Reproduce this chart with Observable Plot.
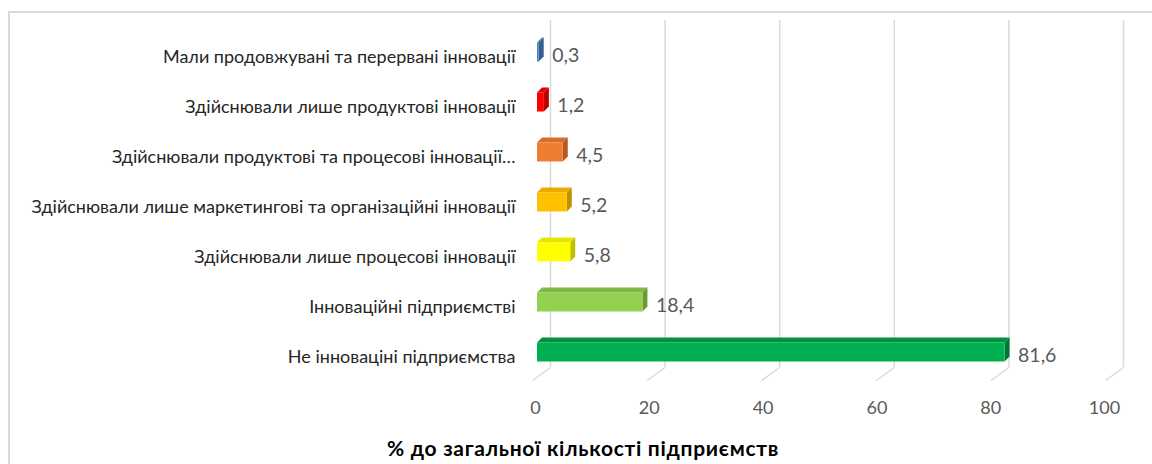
<!DOCTYPE html>
<html><head><meta charset="utf-8">
<script src="https://cdn.jsdelivr.net/npm/d3@7"></script>
<script src="https://cdn.jsdelivr.net/npm/@observablehq/plot@0.6"></script>
<style>
body{margin:0;background:#fff;}
#wrap{position:relative;width:1152px;height:464px;overflow:hidden;font-family:Lato,"Open Sans",sans-serif;}
#border{position:absolute;left:8px;top:11px;width:1300px;height:700px;border:2px solid #d9d9d9;box-sizing:border-box;}
#chart{position:absolute;left:0;top:0;}
#title{position:absolute;left:0;width:1166px;top:435px;text-align:center;font-weight:bold;font-size:21px;letter-spacing:0.7px;color:#000;}
</style></head>
<body><div id="wrap"><div id="border"></div><div id="chart"></div><div id="title"></div></div>
<script>
const categories = [
  "Мали продовжувані та перервані інновації",
  "Здійснювали лише продуктові інновації",
  "Здійснювали продуктові та процесові інновації…",
  "Здійснювали лише маркетингові та організаційні інновації",
  "Здійснювали лише процесові інновації",
  "Інноваційні підприємстві",
  "Не інноваціні підприємства"
];
const values = [0.3, 1.2, 4.5, 5.2, 5.8, 18.4, 81.6];
const valueLabels = ["0,3", "1,2", "4,5", "5,2", "5,8", "18,4", "81,6"];
const frontColors = ["#4f81bd", "#ff0000", "#ed7d31", "#ffc000", "#ffff00", "#92d050", "#00b050"];
const topColors   = ["#4674aa", "#e60000", "#d66f2a", "#e6ad00", "#e6e600", "#7fb845", "#00903f"];
const sideColors  = ["#365f8e", "#b80000", "#b35a22", "#bf9000", "#bfbf00", "#6a9a36", "#007636"];
const xTicks = [0, 20, 40, 60, 80, 100];
const xTickLabels = ["0", "20", "40", "60", "80", "100"];
const titleText = "% до загальної кількості підприємств";

document.getElementById("title").textContent = titleText;

const dX = 0.87, dY = 0.1, h = 0.19;
const rows = categories.map((c, i) => ({c, i, v: values[i], lab: valueLabels[i]}));
const topFaces = rows.flatMap(r => [
  {i: r.i, y: r.i - h, x1: 0, x2: r.v, col: topColors[r.i]},
  {i: r.i, y: r.i - h - dY, x1: dX, x2: r.v + dX, col: topColors[r.i]}
]);
const sideFaces = rows.flatMap(r => [
  {i: r.i, x: r.v, y1: r.i - h, y2: r.i + h, col: sideColors[r.i]},
  {i: r.i, x: r.v + dX, y1: r.i - h - dY, y2: r.i + h - dY, col: sideColors[r.i]}
]);
const ticks = xTicks.map((t, k) => ({t, lab: xTickLabels[k]}));

const chart = Plot.plot({
  width: 1152,
  height: 464,
  x: {domain: [0, 100], range: [537, 1110], axis: null},
  y: {domain: [-0.5, 6.5], range: [27, 377], axis: null},
  color: {type: "identity"},
  style: {background: "transparent", fontFamily: "Lato, 'Open Sans', sans-serif", overflow: "visible"},
  marks: [
    Plot.ruleX(ticks, {x: "t", y1: () => -0.64, y2: () => 6.3, dx: 13, stroke: "#d9d9d9", strokeWidth: 1.5}),
    Plot.link(ticks, {x1: "t", y1: () => 6.3, x2: d => d.t - 3.14, y2: () => 6.56, dx: 13, stroke: "#d9d9d9", strokeWidth: 1.5}),
    Plot.areaX(topFaces, {y: "y", x1: "x1", x2: "x2", z: "i", fill: "col"}),
    Plot.areaY(sideFaces, {x: "x", y1: "y1", y2: "y2", z: "i", fill: "col"}),
    Plot.rect(rows, {x1: () => 0, x2: "v", y1: d => d.i - h, y2: d => d.i + h, fill: d => frontColors[d.i]}),
    Plot.text(rows, {x: () => 0, y: "i", text: "c", textAnchor: "end", dx: -22, dy: 5, fontSize: 18, fill: "#262626"}),
    Plot.text(rows, {x: d => d.v + dX, y: "i", text: "lab", textAnchor: "start", dx: 8, dy: 3, fontSize: 19.5, fill: "#595959"}),
    Plot.text(ticks, {x: d => d.t * 0.993, y: () => 7.12, text: "lab", dx: -2, fontSize: 18, fill: "#595959"})
  ]
});
document.getElementById("chart").appendChild(chart);
</script>
</body></html>
